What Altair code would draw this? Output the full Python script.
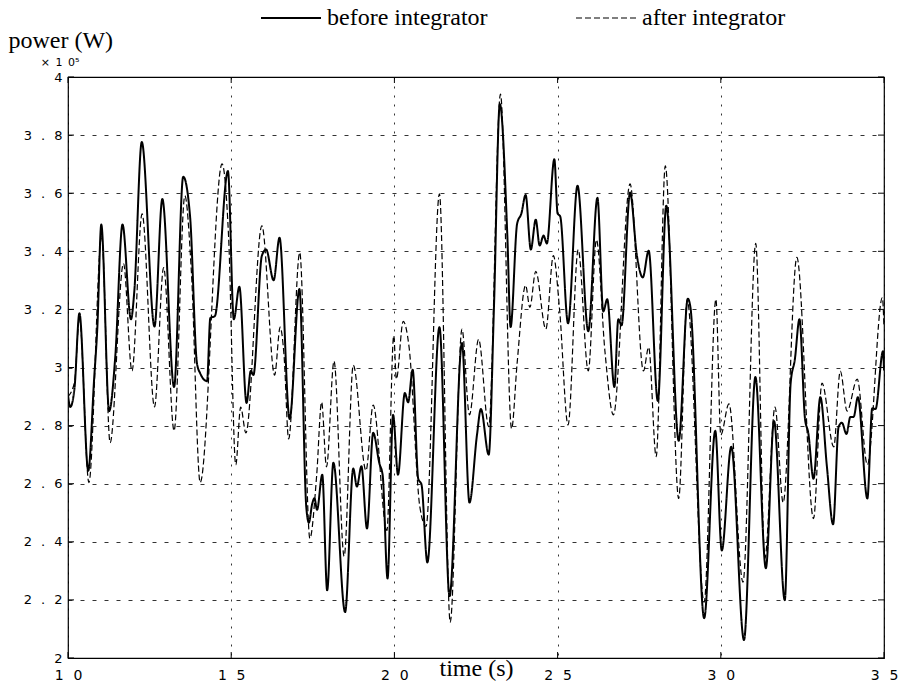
import altair as alt
import pandas as pd

# ---- data (time in s, power in 1e5 W) ----
t_before = [10.0, 10.07, 10.2, 10.35, 10.62, 10.8, 10.9, 11.02, 11.26, 11.45, 11.67, 11.93, 12.03, 12.26,
            12.65, 12.89, 13.25, 13.53, 13.74, 13.95, 14.05, 14.26, 14.36, 14.5, 14.9, 15.08, 15.25, 15.47,
            15.6, 15.68, 15.94, 16.07, 16.3, 16.48, 16.79, 17.09, 17.3, 17.38, 17.48, 17.55, 17.63, 17.79,
            17.94, 18.13, 18.49, 18.74, 18.85, 18.99, 19.16, 19.35, 19.54, 19.64, 19.79, 19.96, 20.11, 20.32,
            20.42, 20.56, 20.73, 20.83, 21.01, 21.38, 21.69, 22.07, 22.3, 22.53, 22.65, 22.89, 23.05, 23.23,
            23.46, 23.56, 23.76, 23.89, 24.02, 24.18, 24.33, 24.45, 24.57, 24.67, 24.9, 25.0, 25.08, 25.32,
            25.61, 25.94, 26.22, 26.4, 26.52, 26.74, 26.86, 26.96, 27.22, 27.43, 27.61, 27.79, 28.07, 28.33,
            28.71, 28.99, 29.07, 29.49, 29.83, 30.03, 30.32, 30.71, 31.06, 31.38, 31.63, 31.96, 32.14, 32.27,
            32.41, 32.58, 32.68, 32.84, 33.05, 33.25, 33.44, 33.61, 33.71, 33.85, 33.97, 34.07, 34.2, 34.49,
            34.64, 34.74, 34.97, 35.0]
v_before = [2.905, 2.864, 2.93, 3.187, 2.645, 2.96, 3.14, 3.492, 2.85, 3.04, 3.492, 3.166, 3.26, 3.776,
            3.141, 3.58, 2.933, 3.657, 3.52, 3.015, 2.98, 2.953, 3.17, 3.177, 3.676, 3.166, 3.278, 2.878,
            2.988, 2.974, 3.385, 3.406, 3.30, 3.447, 2.823, 3.27, 2.52, 2.466, 2.53, 2.55, 2.51, 2.631,
            2.233, 2.672, 2.158, 2.652, 2.59, 2.66, 2.446, 2.775, 2.67, 2.63, 2.274, 2.837, 2.631, 2.912,
            2.88, 2.992, 2.617, 2.597, 2.329, 3.139, 2.213, 3.084, 2.535, 2.768, 2.857, 2.70, 3.207, 3.907,
            3.454, 3.139, 3.495, 3.53, 3.594, 3.406, 3.509, 3.42, 3.454, 3.427, 3.717, 3.53, 3.52, 3.152,
            3.626, 3.125, 3.584, 3.193, 3.235, 2.933, 3.166, 3.145, 3.602, 3.385, 3.31, 3.402, 2.885, 3.557,
            2.748, 3.237, 3.207, 2.137, 2.782, 2.37, 2.727, 2.062, 2.967, 2.309, 2.816, 2.199, 2.946, 3.029,
            3.166, 2.823, 2.775, 2.617, 2.898, 2.66, 2.46, 2.796, 2.81, 2.771, 2.83, 2.83, 2.898, 2.549,
            2.86, 2.857, 3.056, 2.99]

t_after = [10.0, 10.2, 10.35, 10.64, 11.03, 11.29, 11.7, 11.96, 12.27, 12.65, 12.93, 13.25, 13.58, 13.78,
           14.05, 14.72, 14.92, 15.14, 15.29, 15.45, 15.94, 16.33, 16.5, 16.62, 16.76, 17.1, 17.41, 17.62,
           17.77, 17.92, 18.15, 18.46, 18.74, 19.13, 19.35, 19.77, 19.98, 20.06, 20.27, 20.45, 20.78, 20.97,
           21.38, 21.71, 22.07, 22.3, 22.58, 22.89, 23.25, 23.59, 23.76, 24.02, 24.15, 24.33, 24.64, 24.87,
           25.06, 25.32, 25.63, 25.94, 26.19, 26.45, 26.71, 27.22, 27.63, 27.79, 28.02, 28.3, 28.71, 28.97,
           29.49, 29.85, 30.0, 30.25, 30.68, 31.07, 31.35, 31.66, 31.91, 32.33, 32.84, 33.1, 33.46, 33.66,
           33.87, 34.18, 34.49, 34.95, 35.0]
v_after = [2.9, 2.95, 3.173, 2.604, 3.454, 2.741, 3.358, 2.988, 3.529, 2.864, 3.344, 2.782, 3.591, 3.33,
           2.604, 3.701, 3.45, 2.665, 2.864, 2.775, 3.488, 2.974, 3.139, 3.04, 2.754, 3.396, 2.412, 2.631,
           2.881, 2.658, 3.022, 2.35, 3.008, 2.645, 2.871, 2.439, 3.11, 2.96, 3.159, 3.07, 2.52, 2.453,
           3.598, 2.123, 3.132, 2.837, 3.097, 2.796, 3.941, 2.789, 3.015, 3.283, 3.207, 3.331, 3.132, 3.385,
           3.20, 2.802, 3.406, 2.988, 3.44, 3.056, 2.837, 3.632, 2.988, 3.07, 2.693, 3.694, 2.549, 3.232,
           2.192, 3.235, 2.768, 2.875, 2.261, 3.427, 2.343, 2.864, 2.535, 3.379, 2.48, 2.946, 2.727, 2.988,
           2.85, 2.96, 2.665, 3.241, 3.14]

series_names = ["before integrator", "after integrator"]
x_ticks = [10, 15, 20, 25, 30, 35]
y_ticks = [2, 2.2, 2.4, 2.6, 2.8, 3, 3.2, 3.4, 3.6, 3.8, 4]

W, H = 816, 581

df = pd.concat([
    pd.DataFrame({"time": t_before, "power": v_before, "series": series_names[0]}),
    pd.DataFrame({"time": t_after, "power": v_after, "series": series_names[1]}),
], ignore_index=True)

xscale = alt.Scale(domain=[10, 35], nice=False, zero=False)
yscale = alt.Scale(domain=[2, 4], nice=False, zero=False)

tick_font = "DejaVu Sans"
serif = "Liberation Serif"
SP = "\u2002\u2009"  # wide letter spacing, as in the reference tick labels

x_label_expr = "replace(toString(datum.value), regexp('(.)(?=.)', 'g'), '$1" + SP + "')"
y_label_expr = "replace(format(datum.value, '.1~f'), regexp('(.)(?=.)', 'g'), '$1" + SP + "')"

lines = alt.Chart(df).mark_line(interpolate="monotone", color="black", clip=True).encode(
    x=alt.X("time:Q", scale=xscale,
            axis=alt.Axis(values=x_ticks, title="time (s)", grid=True, gridColor="black",
                          gridDash=[2, 7], gridWidth=0.8, ticks=False, domain=False,
                          labelExpr=x_label_expr, labelFlush=False,
                          labelFont=tick_font, labelFontSize=14, labelColor="black",
                          labelPadding=10, titleFont=serif, titleFontSize=24,
                          titleFontWeight="normal", titleColor="black",
                          titleBaseline="alphabetic", titleY=17)),
    y=alt.Y("power:Q", scale=yscale,
            axis=alt.Axis(values=y_ticks, title="power (W)", grid=True, gridColor="black",
                          gridDash=[4, 8], gridWidth=0.8, ticks=False, domain=False,
                          labelExpr=y_label_expr,
                          labelFont=tick_font, labelFontSize=13, labelColor="black",
                          labelPadding=6, titleFont=serif, titleFontSize=24,
                          titleFontWeight="normal", titleColor="black", titleAngle=0,
                          titleAlign="left", titleBaseline="middle", titleX=-60, titleY=-37)),
    strokeDash=alt.StrokeDash("series:N",
                              scale=alt.Scale(domain=series_names, range=[[1, 0], [6, 3]]),
                              legend=alt.Legend(orient="none", legendX=192, legendY=-90,
                                                direction="horizontal", title=None,
                                                symbolType="stroke", symbolSize=3600,
                                                symbolStrokeWidth=1.6, symbolStrokeColor="black",
                                                labelFont=serif, labelFontSize=24,
                                                labelColor="black", labelOffset=5,
                                                columnPadding=85, labelLimit=400)),
    strokeWidth=alt.StrokeWidth("series:N",
                                scale=alt.Scale(domain=series_names, range=[2.0, 1.2]),
                                legend=None),
)

# inward tick marks on all four sides
xt = pd.DataFrame({"tick": x_ticks})
yt = pd.DataFrame({"tick": y_ticks})
tick_len = 6
bottom_ticks = alt.Chart(xt).mark_rule(color="black", strokeWidth=1).encode(
    x="tick:Q", y=alt.value(H - tick_len), y2=alt.value(H))
top_ticks = alt.Chart(xt).mark_rule(color="black", strokeWidth=1).encode(
    x="tick:Q", y=alt.value(0), y2=alt.value(tick_len))
left_ticks = alt.Chart(yt).mark_rule(color="black", strokeWidth=1).encode(
    y="tick:Q", x=alt.value(0), x2=alt.value(tick_len))
right_ticks = alt.Chart(yt).mark_rule(color="black", strokeWidth=1).encode(
    y="tick:Q", x=alt.value(W - tick_len), x2=alt.value(W))

exponent = alt.Chart(pd.DataFrame({"txt": ["×\u20021\u20020⁵"]})).mark_text(
    font=tick_font, fontSize=11, color="black", align="center", baseline="middle"
).encode(text="txt:N", x=alt.value(-8), y=alt.value(-14))

chart = alt.layer(lines, bottom_ticks, top_ticks, left_ticks, right_ticks, exponent).properties(
    width=W, height=H,
    padding={"left": 68, "top": 77, "right": 20, "bottom": 28},
    autosize=alt.AutoSizeParams(type="none"),
    background="white",
).configure_view(stroke="black", strokeWidth=1.2).configure_axis(labelFontWeight="normal")

chart.save("out.html", embed_options={"renderer": "svg", "actions": False})
